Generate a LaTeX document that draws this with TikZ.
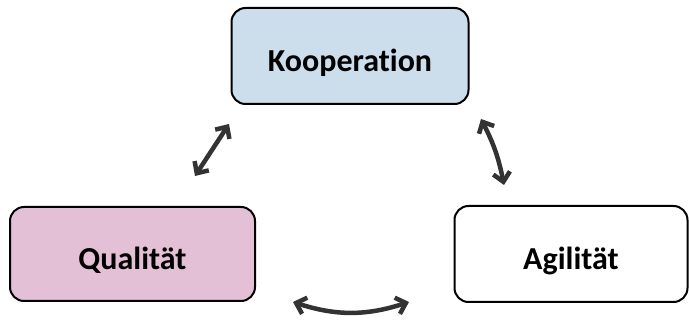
\documentclass[tikz,border=0pt]{standalone}
\usepackage{fontspec}
\setmainfont{Carlito}[Ligatures=NoCommon]
\usetikzlibrary{arrows.meta}
\definecolor{kblue}{RGB}{204,222,236}
\definecolor{qpink}{RGB}{228,192,214}
\definecolor{arrowgray}{RGB}{51,51,51}
\tikzset{
  box/.style={draw=black, line width=2pt, rounded corners=14pt, font=\fontsize{32}{38}\selectfont\bfseries, text=black, text height=31pt, text depth=0pt},
  dbl/.style={draw=arrowgray, line width=4.5pt, {Straight Barb[length=9pt,width=17pt,line width=4.5pt]}-{Straight Barb[length=9pt,width=17pt,line width=4.5pt]}}
}
\begin{document}
\begin{tikzpicture}[x=1pt,y=-1pt]
\useasboundingbox (0,0) rectangle (689,320);
\node[box, fill=kblue, minimum width=237pt, minimum height=96pt] (K) at (350,56) {Kooperation};
\node[box, fill=qpink, minimum width=245pt, minimum height=94pt] (Q) at (132.5,254) {Qualität};
\node[box, fill=white, minimum width=233pt, minimum height=96pt] (A) at (571,254) {Agilität};
\coordinate (a1) at (195,176);
\coordinate (a2) at (229,124);
\coordinate (b1) at (481,119);
\coordinate (b2) at (504,185);
\coordinate (c1) at (293,302);
\coordinate (c2) at (409,302);
\draw[dbl] (a1) -- (a2);
\draw[dbl] (b1) to[bend left=8] (b2);
\draw[dbl] (c1) to[bend right=18] (c2);
\end{tikzpicture}
\end{document}
